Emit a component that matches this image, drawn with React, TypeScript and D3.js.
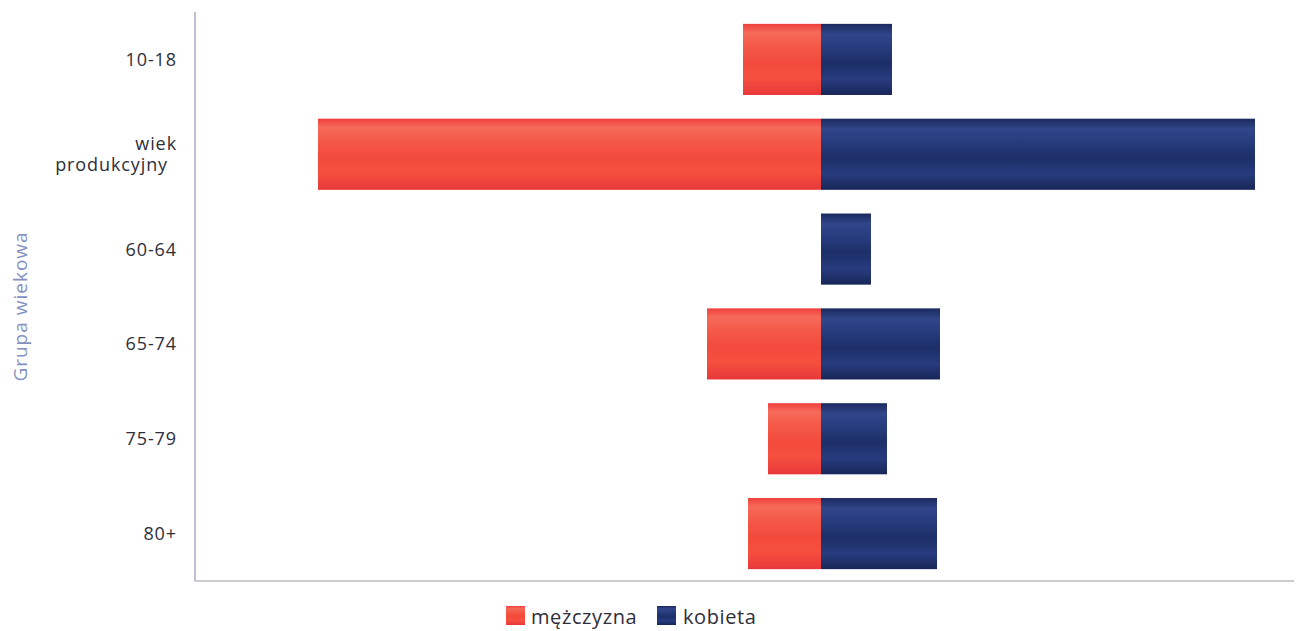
import React from "react";
import * as d3 from "d3";

const categories = ["10-18", "wiek produkcyjny", "60-64", "65-74", "75-79", "80+"];
const maleValues = [156, 1006, 0, 228, 106, 146];
const femaleValues = [142, 868, 100, 238, 132, 232];
const seriesNames = ["mężczyzna", "kobieta"];
const xDomain = [-1252, 946];

const W = 1296;
const H = 631;
const left = 195;
const right = 1294;
const top = 12;
const bottom = 581;

const FONT = "'Open Sans', sans-serif";

export default function App() {
  const x = d3.scaleLinear().domain(xDomain).range([left, right]);
  const y = d3.scaleBand<string>().domain(categories).range([top, bottom]).paddingInner(0.25).paddingOuter(0.125);
  const x0 = x(0);

  return (
    <svg width={W} height={H} style={{ position: "absolute", left: 0, top: 0, background: "#fff" }}>
      <defs>
        <linearGradient id="gRed" x1="0" y1="0" x2="0" y2="1">
          <stop offset="0" stopColor="#ee3f3c" />
          <stop offset="0.12" stopColor="#f66a5a" />
          <stop offset="0.3" stopColor="#f55a48" />
          <stop offset="0.55" stopColor="#f24a3c" />
          <stop offset="0.75" stopColor="#f5503f" />
          <stop offset="1" stopColor="#e8383a" />
        </linearGradient>
        <linearGradient id="gBlue" x1="0" y1="0" x2="0" y2="1">
          <stop offset="0" stopColor="#1b2a5e" />
          <stop offset="0.15" stopColor="#31468a" />
          <stop offset="0.35" stopColor="#263b7c" />
          <stop offset="0.55" stopColor="#1d2f68" />
          <stop offset="0.78" stopColor="#273b7e" />
          <stop offset="1" stopColor="#182658" />
        </linearGradient>
      </defs>

      {categories.map((c, i) => (
        <g key={c}>
          {maleValues[i] > 0 && (
            <rect x={x(-maleValues[i])} y={y(c)} width={x0 - x(-maleValues[i])} height={y.bandwidth()} fill="url(#gRed)" />
          )}
          {femaleValues[i] > 0 && (
            <rect x={x0} y={y(c)} width={x(femaleValues[i]) - x0} height={y.bandwidth()} fill="url(#gBlue)" />
          )}
        </g>
      ))}

      <line x1={left} x2={left} y1={top} y2={bottom} stroke="#a6a9c6" strokeWidth={1.5} />
      <line x1={left} x2={right} y1={bottom} y2={bottom} stroke="#b9bac4" strokeWidth={1.5} />

      {categories.map((c) => {
        const cy = (y(c) as number) + y.bandwidth() / 2;
        const words = c.split(" ");
        if (words.length > 1) {
          return (
            <g key={c} fontFamily={FONT} fontSize={18} fill="#2e2e3a" letterSpacing={0.9}>
              <text x={177} y={cy - 4} textAnchor="end">{words[0]}</text>
              <text x={168} y={cy + 17} textAnchor="end">{words[1]}</text>
            </g>
          );
        }
        return (
          <text key={c} x={177} y={cy + 6.5} textAnchor="end" fontFamily={FONT} fontSize={18} fill="#2e2e3a" letterSpacing={0.9}>
            {c}
          </text>
        );
      })}

      <text
        transform={`translate(27, ${(top + bottom) / 2 + 10}) rotate(-90)`}
        textAnchor="middle"
        fontFamily={FONT}
        fontSize={19}
        letterSpacing={1}
        fill="#8391c2"
      >
        Grupa wiekowa
      </text>

      <g fontFamily={FONT} fontSize={20} fill="#2e2e3a" letterSpacing={0.6}>
        <rect x={506} y={606} width={19} height={19} fill="url(#gRed)" />
        <text x={531} y={624}>{seriesNames[0]}</text>
        <rect x={657} y={606} width={19} height={19} fill="url(#gBlue)" />
        <text x={683} y={624}>{seriesNames[1]}</text>
      </g>
    </svg>
  );
}
